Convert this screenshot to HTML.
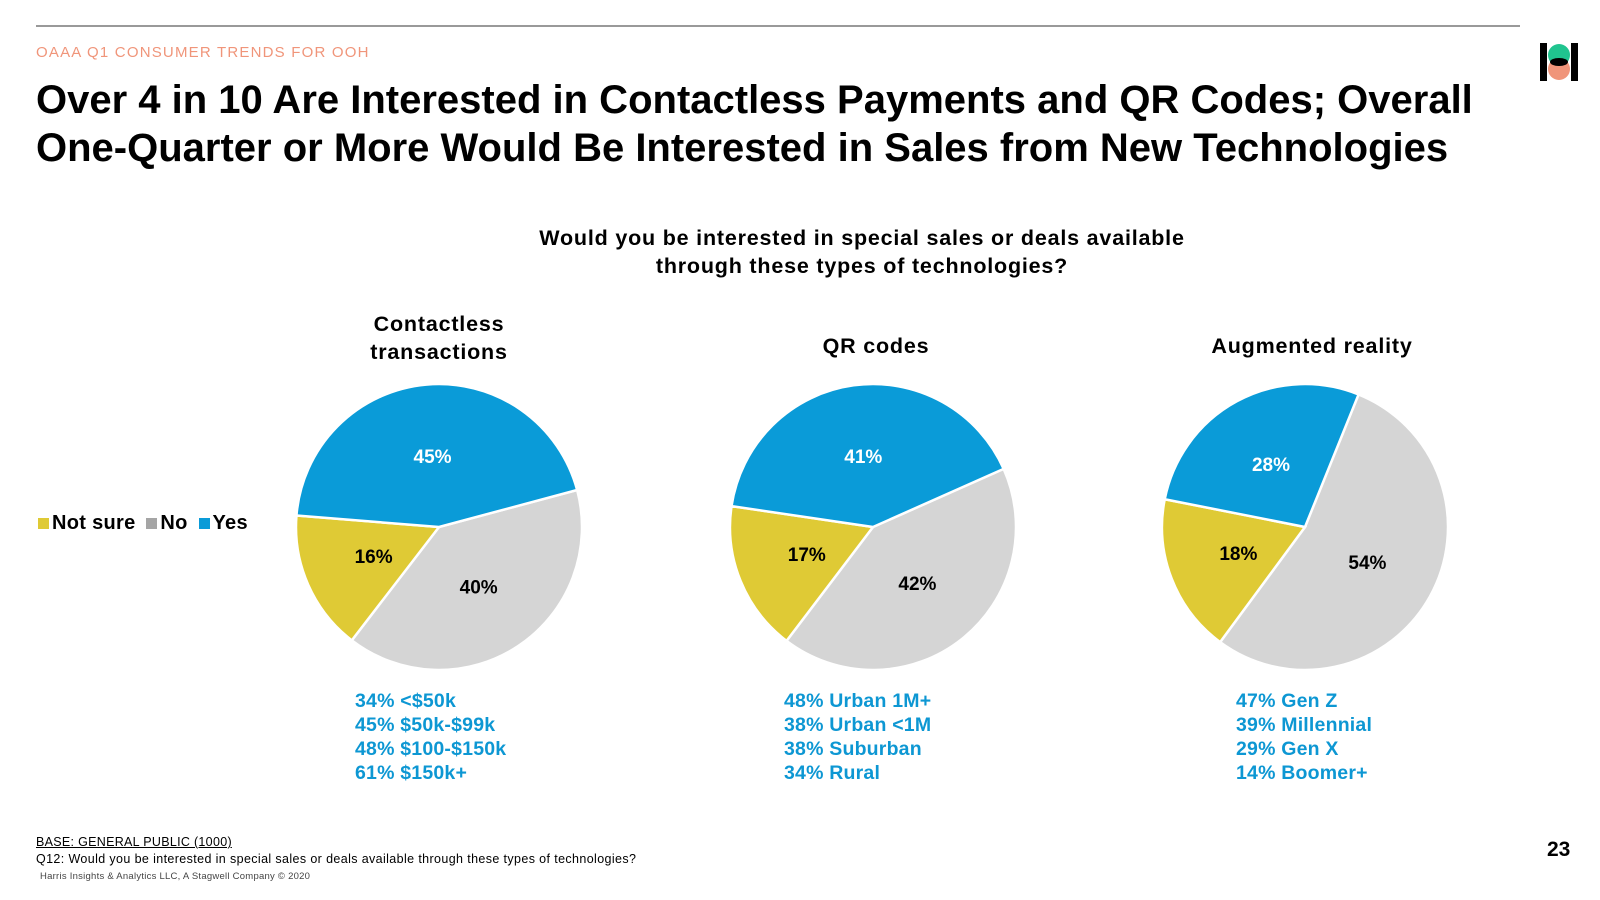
<!DOCTYPE html>
<html><head><meta charset="utf-8"><style>
body{margin:0;width:1600px;height:900px;background:#fff;font-family:"Liberation Sans",sans-serif;position:relative;overflow:hidden}
.a{position:absolute;white-space:nowrap}
.b{font-weight:bold}
.blue{color:#0d97d3;font-weight:bold;font-size:19.5px;line-height:24px;letter-spacing:0.2px}
.ct{font-size:21.5px;line-height:28px;letter-spacing:0.8px}
</style></head><body>
<div class="a" style="left:36px;top:25px;width:1484px;height:2px;background:#999"></div>
<svg class="a" style="left:1540px;top:43px" width="38" height="38" viewBox="0 0 38 38">
<rect x="0" y="0" width="7" height="38" fill="#000"/><rect x="31" y="0" width="7" height="38" fill="#000"/>
<circle cx="19" cy="26" r="11" fill="#f0957a"/><circle cx="19" cy="12" r="11" fill="#20c48f"/>
<ellipse cx="19" cy="19" rx="9" ry="4" fill="#000"/></svg>
<div class="a" style="left:36px;top:44px;font-size:15px;color:#f0957a;letter-spacing:1.2px">OAAA Q1 CONSUMER TRENDS FOR OOH</div>
<div class="a b" style="left:36px;top:76px;font-size:40px;line-height:48px;color:#000">Over 4 in 10 Are Interested in Contactless Payments and QR Codes; Overall<br>One-Quarter or More Would Be Interested in Sales from New Technologies</div>
<div class="a b ct" style="left:862px;top:224px;transform:translateX(-50%);text-align:center">Would you be interested in special sales or deals available<br>through these types of technologies?</div>
<div class="a b ct" style="left:439px;top:310px;transform:translateX(-50%);text-align:center">Contactless<br>transactions</div>
<div class="a b ct" style="left:876px;top:332px;transform:translateX(-50%)">QR codes</div>
<div class="a b ct" style="left:1312px;top:332px;transform:translateX(-50%)">Augmented reality</div>
<div class="a b" style="left:38px;top:511px;font-size:20px;line-height:24px;letter-spacing:0.3px">
<span><span style="display:inline-block;width:11px;height:11px;background:#dfca35;margin-right:3px"></span>Not sure</span>
<span style="margin-left:5px"><span style="display:inline-block;width:11px;height:11px;background:#a5a5a5;margin-right:3px"></span>No</span>
<span style="margin-left:5px"><span style="display:inline-block;width:11px;height:11px;background:#0a9bd8;margin-right:3px"></span>Yes</span></div>
<svg id="pies" class="a" style="left:0;top:0" width="1600" height="900"></svg>
<div class="a blue" style="left:355px;top:689px">34% &lt;$50k<br>45% $50k-$99k<br>48% $100-$150k<br>61% $150k+</div>
<div class="a blue" style="left:784px;top:689px">48% Urban 1M+<br>38% Urban &lt;1M<br>38% Suburban<br>34% Rural</div>
<div class="a blue" style="left:1236px;top:689px">47% Gen Z<br>39% Millennial<br>29% Gen X<br>14% Boomer+</div>
<div class="a" style="left:36px;top:835px;font-size:12.5px;text-decoration:underline;letter-spacing:0.3px">BASE: GENERAL PUBLIC (1000)</div>
<div class="a" style="left:36px;top:852px;font-size:12.5px;letter-spacing:0.38px">Q12: Would you be interested in special sales or deals available through these types of technologies?</div>
<div class="a" style="left:40px;top:871px;font-size:9.5px;color:#444;letter-spacing:0.25px">Harris Insights &amp; Analytics LLC, A Stagwell Company © 2020</div>
<div class="a b" style="left:1547px;top:838px;font-size:21px">23</div>
<script>
const charts=["Contactless transactions","QR codes","Augmented reality"];
const noVals=[40,42,54];
const notSureVals=[16,17,18];
const yesVals=[45,41,28];
const startAngles=[75,66,22];
const cxs=[439,873,1305], cy=527, R=143;
const colors={no:"#d5d5d5",ns:"#dfca35",yes:"#0a9bd8"};
const svg=document.getElementById('pies');
const NS="http://www.w3.org/2000/svg";
function pt(cx,a,r){const t=a*Math.PI/180;return[cx+r*Math.sin(t),cy-r*Math.cos(t)];}
charts.forEach((c,i)=>{
  const vals=[["no",noVals[i]],["ns",notSureVals[i]],["yes",yesVals[i]]];
  const tot=vals.reduce((s,v)=>s+v[1],0);
  let a=startAngles[i];
  vals.forEach(([k,v])=>{
    const sw=v/tot*360,a2=a+sw;
    const p1=pt(cxs[i],a,R),p2=pt(cxs[i],a2,R);
    const path=document.createElementNS(NS,'path');
    path.setAttribute('d',`M${cxs[i]},${cy}L${p1[0]},${p1[1]}A${R},${R} 0 ${sw>180?1:0} 1 ${p2[0]},${p2[1]}Z`);
    path.setAttribute('fill',colors[k]);path.setAttribute('stroke','#fff');path.setAttribute('stroke-width','2.5');
    
    
    svg.appendChild(path);
    const m=pt(cxs[i],a+sw/2,R*0.5);
    const t=document.createElementNS(NS,'text');
    t.setAttribute('x',m[0]);t.setAttribute('y',m[1]+7);t.setAttribute('text-anchor','middle');
    t.setAttribute('font-family','Liberation Sans, sans-serif');t.setAttribute('font-weight','bold');t.setAttribute('font-size','19');
    t.setAttribute('fill',k=='yes'?'#fff':'#000');
    t.textContent=v+'%';
    
    
    svg.appendChild(t);
    a=a2;
  });
});
</script>
</body></html>
